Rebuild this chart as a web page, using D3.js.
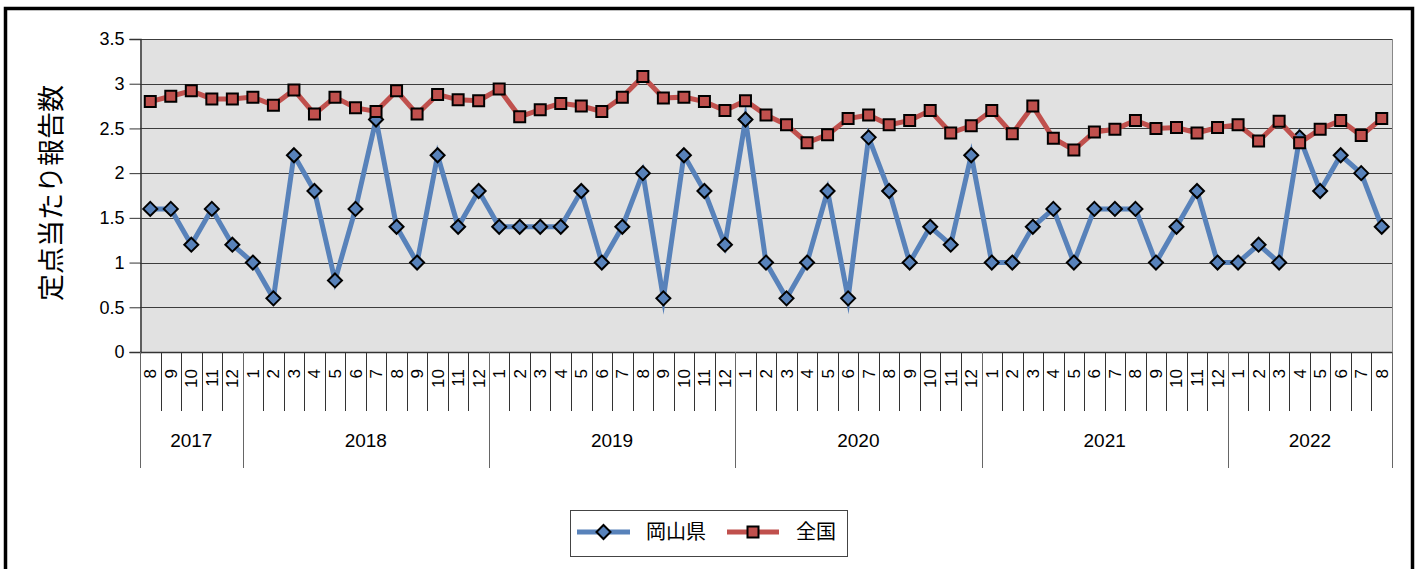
<!DOCTYPE html>
<html>
<head>
<meta charset="utf-8">
<script src="https://cdn.jsdelivr.net/npm/d3@7"></script>
<style>
  html, body { margin: 0; padding: 0; background: #fff; }
  svg { display: block; }
  text { font-family: "Liberation Sans", Arial, sans-serif; fill: #000; }
  .jp { font-family: "Noto Sans CJK JP", "Noto Sans", sans-serif; }
</style>
</head>
<body>
<svg id="chart" width="1423" height="569"></svg>
<script>
// ---- data ----
const yearLabels = ["2017", "2018", "2019", "2020", "2021", "2022"];
const monthsPerYear = [5, 12, 12, 12, 12, 8];
const monthLabels = [
  8, 9, 10, 11, 12,
  1, 2, 3, 4, 5, 6, 7, 8, 9, 10, 11, 12,
  1, 2, 3, 4, 5, 6, 7, 8, 9, 10, 11, 12,
  1, 2, 3, 4, 5, 6, 7, 8, 9, 10, 11, 12,
  1, 2, 3, 4, 5, 6, 7, 8, 9, 10, 11, 12,
  1, 2, 3, 4, 5, 6, 7, 8
];
const okayama = [
  1.6, 1.6, 1.2, 1.6, 1.2,
  1.0, 0.6, 2.2, 1.8, 0.8, 1.6, 2.6, 1.4, 1.0, 2.2, 1.4, 1.8,
  1.4, 1.4, 1.4, 1.4, 1.8, 1.0, 1.4, 2.0, 0.6, 2.2, 1.8, 1.2,
  2.6, 1.0, 0.6, 1.0, 1.8, 0.6, 2.4, 1.8, 1.0, 1.4, 1.2, 2.2,
  1.0, 1.0, 1.4, 1.6, 1.0, 1.6, 1.6, 1.6, 1.0, 1.4, 1.8, 1.0,
  1.0, 1.2, 1.0, 2.4, 1.8, 2.2, 2.0, 1.4
];
const national = [
  2.80, 2.86, 2.92, 2.83, 2.83,
  2.85, 2.76, 2.93, 2.66, 2.85, 2.73, 2.69, 2.92, 2.66, 2.88, 2.82, 2.81,
  2.94, 2.63, 2.71, 2.78, 2.75, 2.69, 2.85, 3.08, 2.84, 2.85, 2.80, 2.70,
  2.81, 2.65, 2.54, 2.34, 2.43, 2.61, 2.65, 2.54, 2.59, 2.70, 2.45, 2.53,
  2.70, 2.44, 2.75, 2.39, 2.26, 2.46, 2.49, 2.59, 2.50, 2.51, 2.45, 2.51,
  2.54, 2.36, 2.58, 2.34, 2.49, 2.59, 2.42, 2.61
];
const yTicks = [0, 0.5, 1, 1.5, 2, 2.5, 3, 3.5];
const seriesNames = ["岡山県", "全国"];
const yTitle = "定点当たり報告数";

// ---- layout ----
const svg = d3.select("#chart");
const L = 140, R = 1392, T = 39, B = 352;
const blue = "#5882BA", red = "#C0504D";

const idx = d3.range(monthLabels.length);
const x = d3.scaleBand().domain(idx).range([L, R]).padding(0);
const cx = i => x(i) + x.bandwidth() / 2;
const y = d3.scaleLinear().domain([0, 3.5]).range([B, T]);

// outer frame
svg.append("rect").attr("x", 5.5).attr("y", 8.5).attr("width", 1407).attr("height", 620)
  .attr("fill", "none").attr("stroke", "#000").attr("stroke-width", 3.5);

// plot background
svg.append("rect").attr("x", L).attr("y", T).attr("width", R - L).attr("height", B - T)
  .attr("fill", "#E1E1E1");

// gridlines
svg.append("g").selectAll("line").data(yTicks.filter(d => d > 0)).join("line")
  .attr("x1", L).attr("x2", R)
  .attr("y1", d => Math.round(y(d)) + 0.5).attr("y2", d => Math.round(y(d)) + 0.5)
  .attr("stroke", "#3c3c3c").attr("stroke-width", 1);

// right border
svg.append("line").attr("x1", R + 0.5).attr("x2", R + 0.5).attr("y1", T).attr("y2", B)
  .attr("stroke", "#888").attr("stroke-width", 1);

// y axis
const yAxis = d3.axisLeft(y).tickValues(yTicks).tickSize(11).tickPadding(5)
  .tickFormat(d => String(d));
const gy = svg.append("g").attr("transform", `translate(${L + 0.5},0)`).call(yAxis);
gy.select(".domain").attr("stroke", "#333").attr("stroke-width", 1.5);
gy.selectAll(".tick line").attr("stroke", "#333");
gy.selectAll(".tick text").attr("font-size", 18)
  .style("font-family", '"Liberation Sans", Arial, sans-serif').attr("fill", "#000");

// x axis: month ticks at category boundaries
const boundaries = d3.range(monthLabels.length + 1).map(i => i === monthLabels.length ? R : x(i));
svg.append("line").attr("x1", L).attr("x2", R).attr("y1", B + 0.5).attr("y2", B + 0.5)
  .attr("stroke", "#333").attr("stroke-width", 1.5);
const yearBounds = [0];
monthsPerYear.forEach(n => yearBounds.push(yearBounds[yearBounds.length - 1] + n));
svg.append("g").selectAll("line").data(boundaries).join("line")
  .attr("x1", d => Math.round(d) + 0.5).attr("x2", d => Math.round(d) + 0.5)
  .attr("y1", B).attr("y2", (d, i) => yearBounds.includes(i) ? 468 : 411)
  .attr("stroke", (d, i) => yearBounds.includes(i) ? "#666" : "#333").attr("stroke-width", 1);

// month labels (rotated)
svg.append("g").selectAll("text").data(idx).join("text")
  .attr("transform", i => `translate(${cx(i) + 6},369) rotate(-90)`)
  .attr("text-anchor", "end").attr("font-size", 17)
  .text(i => monthLabels[i]);

// year labels
svg.append("g").selectAll("text").data(yearLabels).join("text")
  .attr("x", (d, k) => (x(yearBounds[k]) + (yearBounds[k + 1] >= monthLabels.length ? R : x(yearBounds[k + 1]))) / 2)
  .attr("y", 447).attr("text-anchor", "middle").attr("font-size", 19)
  .text(d => d);

// y title
svg.append("text").attr("class", "jp")
  .attr("transform", "translate(61,193) rotate(-90)")
  .attr("text-anchor", "middle").attr("font-size", 27)
  .text(yTitle);

// series
const line = d3.line().x((d, i) => cx(i)).y(d => y(d));
const diamond = s => `M0,${-s}L${s},0L0,${s}L${-s},0Z`;
const square = s => `M${-s},${-s}H${s}V${s}H${-s}Z`;

svg.append("path").datum(okayama).attr("d", line)
  .attr("fill", "none").attr("stroke", blue).attr("stroke-width", 5)
  .attr("stroke-linejoin", "miter").attr("stroke-miterlimit", 10);
svg.append("g").selectAll("path").data(okayama).join("path")
  .attr("transform", (d, i) => `translate(${cx(i)},${y(d)})`)
  .attr("d", diamond(7)).attr("fill", blue).attr("stroke", "#000").attr("stroke-width", 2);

svg.append("path").datum(national).attr("d", line)
  .attr("fill", "none").attr("stroke", red).attr("stroke-width", 5);
svg.append("g").selectAll("path").data(national).join("path")
  .attr("transform", (d, i) => `translate(${cx(i)},${y(d)})`)
  .attr("d", square(5.5)).attr("fill", red).attr("stroke", "#000").attr("stroke-width", 2);

// legend
const lg = svg.append("g");
lg.append("rect").attr("x", 570.5).attr("y", 510.5).attr("width", 277).attr("height", 46)
  .attr("fill", "#fff").attr("stroke", "#444").attr("stroke-width", 1);
const legendItems = [
  { name: seriesNames[0], color: blue, shape: diamond(7), x0: 577, x1: 630, tx: 646 },
  { name: seriesNames[1], color: red, shape: square(5.5), x0: 727, x1: 779, tx: 796 }
];
legendItems.forEach(it => {
  lg.append("line").attr("x1", it.x0).attr("x2", it.x1).attr("y1", 532).attr("y2", 532)
    .attr("stroke", it.color).attr("stroke-width", 5);
  lg.append("path").attr("transform", `translate(${(it.x0 + it.x1) / 2},532)`)
    .attr("d", it.shape).attr("fill", it.color).attr("stroke", "#000").attr("stroke-width", 2);
  lg.append("text").attr("class", "jp").attr("x", it.tx).attr("y", 539).attr("font-size", 20)
    .text(it.name);
});
</script>
</body>
</html>
